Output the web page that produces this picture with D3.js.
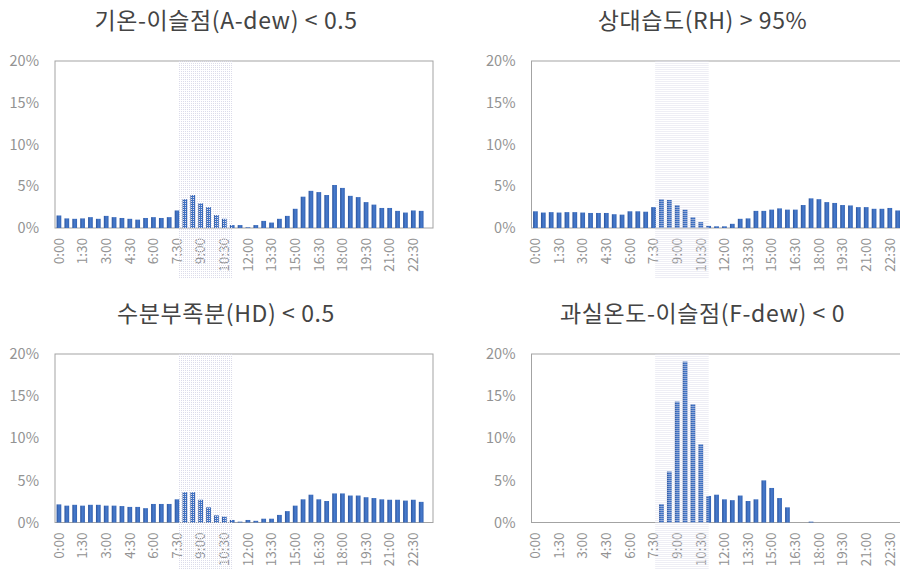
<!DOCTYPE html>
<html>
<head>
<meta charset="utf-8">
<script src="https://cdn.jsdelivr.net/npm/d3@7"></script>
<style>
  body { margin: 0; background: #fff; }
  svg { display: block; }
  .tick text { font-family: "Noto Sans CJK KR", "Noto Sans", sans-serif; fill: #939393; }
  .title { font-family: "Noto Sans CJK KR", "Noto Sans", sans-serif; fill: #444; }
</style>
</head>
<body>
<svg id="chart" width="900" height="569"></svg>
<script>
// half-hour slots
var slots = ["0:00","0:30","1:00","1:30","2:00","2:30","3:00","3:30","4:00","4:30","5:00","5:30",
	"6:00","6:30","7:00","7:30","8:00","8:30","9:00","9:30","10:00","10:30","11:00","11:30",
	"12:00","12:30","13:00","13:30","14:00","14:30","15:00","15:30","16:00","16:30","17:00","17:30",
	"18:00","18:30","19:00","19:30","20:00","20:30","21:00","21:30","22:00","22:30","23:00","23:30"];
var tickLabels = ["0:00","1:30","3:00","4:30","6:00","7:30","9:00","10:30","12:00","13:30","15:00","16:30","18:00","19:30","21:00","22:30"];
var yTicks = [0, 5, 10, 15, 20];
var shadeSlots = ["7:30", "11:00"];

var titles = ["기온-이슬점(A-dew) < 0.5", "상대습도(RH) > 95%", "수분부족분(HD) < 0.5", "과실온도-이슬점(F-dew) < 0"];

// values in %
var aDew = [1.5,1.15,1.1,1.15,1.3,1.1,1.45,1.3,1.2,1.1,1.0,1.2,1.3,1.2,1.3,2.1,3.45,3.95,2.95,2.5,1.55,1.1,0.35,0.35,
	0.08,0.35,0.85,0.65,1.1,1.45,2.3,3.75,4.45,4.3,3.95,5.15,4.8,3.85,3.7,3.1,2.8,2.4,2.4,2.05,1.85,2.1,2.05,0];
var rh = [2.0,1.85,1.9,1.85,1.9,1.9,1.85,1.8,1.8,1.8,1.65,1.6,2.0,2.0,1.95,2.5,3.45,3.35,2.75,2.2,1.3,0.7,0.25,0.2,
	0.2,0.5,1.1,1.15,2.05,2.05,2.2,2.35,2.2,2.2,2.75,3.55,3.45,3.1,3.0,2.75,2.7,2.5,2.5,2.3,2.3,2.4,2.1,0];
var hd = [2.15,2.0,2.1,2.0,2.1,2.1,2.0,2.0,1.95,1.85,1.85,1.7,2.2,2.2,2.2,2.75,3.6,3.6,2.7,1.8,0.85,0.7,0.3,0.1,
	0.3,0.2,0.45,0.45,0.9,1.35,2.0,2.75,3.3,2.75,2.55,3.45,3.45,3.2,3.2,3.0,2.9,2.75,2.7,2.7,2.6,2.7,2.45,0];
var fDew = [0,0,0,0,0,0,0,0,0,0,0,0,0,0,0,0,2.2,6.05,14.35,19.1,14.05,9.3,3.15,3.3,
	2.75,2.65,3.2,2.55,2.75,5.0,4.1,2.9,1.8,0,0,0.1,0,0,0,0,0,0,0,0,0,0,0,0];

var series = [aDew, rh, hd, fDew];

var svg = d3.select("#chart");
var defs = svg.append("defs");

var pat = defs.append("pattern")
	.attr("id", "dots")
	.attr("width", 2).attr("height", 2)
	.attr("patternUnits", "userSpaceOnUse");
pat.append("rect").attr("width", 1).attr("height", 1).attr("fill", "#dcdcea");

var grad = defs.append("linearGradient").attr("id", "barGrad");
grad.append("stop").attr("offset", "0%").attr("stop-color", "#2b539c");
grad.append("stop").attr("offset", "50%").attr("stop-color", "#477bcd");
grad.append("stop").attr("offset", "100%").attr("stop-color", "#3463b3");

// plot boxes
var plotW = 378;
var panels = [
	{left: 55, top: 61, h: 167},
	{left: 531.5, top: 61, h: 167},
	{left: 55, top: 354, h: 168.5},
	{left: 531.5, top: 354, h: 168.5}
];

panels.forEach(function(p, k) {
	var g = svg.append("g").attr("transform", "translate(" + p.left + "," + p.top + ")");

	var x = d3.scaleBand()
		.domain(slots)
		.range([0, plotW])
		.paddingInner(0.4)
		.paddingOuter(0.2);
	var y = d3.scaleLinear()
		.domain([0, 20])
		.range([p.h, 0]);

	g.append("rect")
		.attr("width", plotW)
		.attr("height", p.h)
		.attr("fill", "none")
		.attr("stroke", "#a3a3a3")
		.attr("stroke-width", 1);

	var yAxis = g.append("g")
		.call(d3.axisLeft(y).tickValues(yTicks).tickFormat(function(d) { return d + "%"; })
			.tickSize(0).tickPadding(16));
	yAxis.select(".domain").remove();
	yAxis.selectAll(".tick text").style("font-size", "14.5px");

	var xAxis = g.append("g")
		.attr("transform", "translate(0," + p.h + ")")
		.call(d3.axisBottom(x).tickValues(tickLabels).tickSize(0));
	xAxis.select(".domain").remove();
	xAxis.selectAll(".tick text")
		.style("font-size", "13.5px")
		.attr("transform", "rotate(-90)")
		.attr("text-anchor", "end")
		.attr("x", -10)
		.attr("y", 0)
		.attr("dy", "0.35em");

	g.selectAll(".bar")
		.data(series[k])
		.enter().append("rect")
		.attr("class", "bar")
		.attr("x", function(d, i) { return x(slots[i]); })
		.attr("width", x.bandwidth())
		.attr("y", function(d) { return y(d); })
		.attr("height", function(d) { return p.h - y(d); })
		.attr("fill", "url(#barGrad)");

	// dotted band over the morning hours
	var sx0 = x(shadeSlots[0]) + x.step() * 0.5;
	var sx1 = x(shadeSlots[1]) + x.bandwidth() / 2;
	g.append("rect")
		.attr("x", sx0)
		.attr("y", 0)
		.attr("width", sx1 - sx0)
		.attr("height", p.h + 50)
		.attr("fill", "url(#dots)");

	svg.append("text")
		.attr("class", "title")
		.attr("x", p.left + 171)
		.attr("y", p.top - 32)
		.attr("text-anchor", "middle")
		.style("font-size", "23px")
		.style("letter-spacing", "0.6px")
		.text(titles[k]);
});
</script>
</body>
</html>
